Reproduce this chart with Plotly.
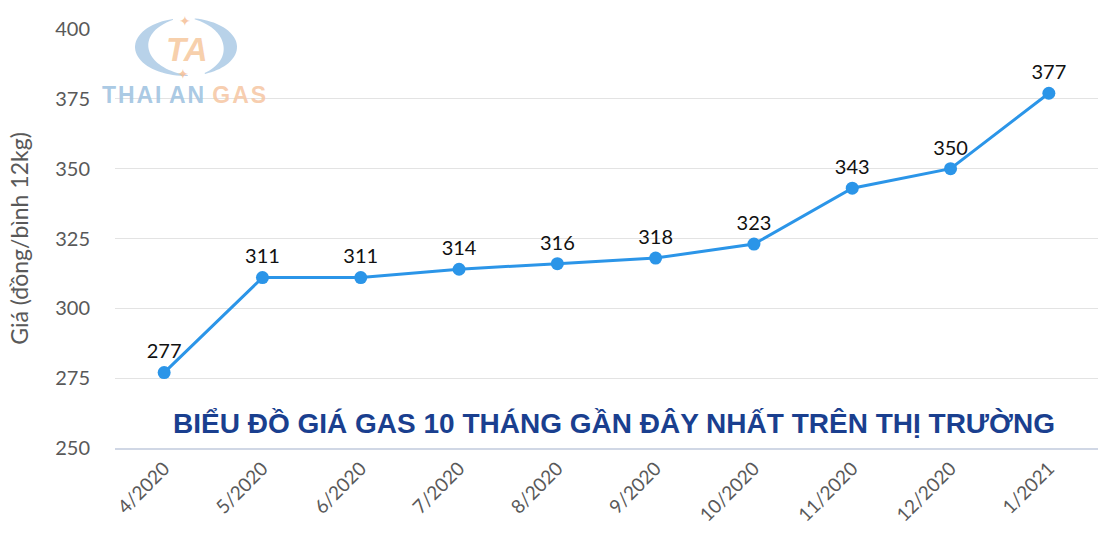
import numpy as np
import plotly.graph_objects as go

months = ["4/2020", "5/2020", "6/2020", "7/2020", "8/2020", "9/2020",
          "10/2020", "11/2020", "12/2020", "1/2021"]
prices = [277, 311, 311, 314, 316, 318, 323, 343, 350, 377]
y_ticks = [250, 275, 300, 325, 350, 375, 400]

L, R, T, B = 115, 4, 29, 95
W, H = 1102, 543
PW, PH = W - L - R, H - T - B

fig = go.Figure()
fig.add_trace(go.Scatter(
    x=months, y=prices, mode="lines+markers+text",
    text=[str(p) for p in prices], textposition="top center",
    textfont=dict(family="Lato", size=20, color="#111111"),
    line=dict(color="#2b95e8", width=3),
    marker=dict(color="#2b95e8", size=13),
    cliponaxis=False, showlegend=False,
))

fig.update_layout(
    width=W, height=H,
    margin=dict(l=L, r=R, t=T, b=B),
    paper_bgcolor="white", plot_bgcolor="white",
    xaxis=dict(type="category", tickangle=-45, showgrid=False,
               tickfont=dict(family="Lato", size=19, color="#595959"),
               showline=True, linecolor="#d0d7e5", linewidth=2,
               range=[-0.5, 9.5], ticks=""),
    yaxis=dict(range=[250, 400], tickvals=y_ticks, showgrid=True,
               gridcolor="#e3e3e3", gridwidth=1, zeroline=False,
               tickfont=dict(family="Lato", size=20, color="#595959"),
               ticks="", ticklabelstandoff=24,
               title=dict(text="Giá (đồng/bình 12kg)", standoff=20,
                          font=dict(family="Lato", size=23, color="#595959"))),
)

# Title annotation
fig.add_annotation(
    text="<b>BIỂU ĐỒ GIÁ GAS 10 THÁNG GẦN ĐÂY NHẤT TRÊN THỊ TRƯỜNG</b>",
    xref="paper", yref="paper", x=(614 - L) / PW, y=(H - B - 423) / PH,
    xanchor="center", yanchor="middle", showarrow=False,
    font=dict(family="Liberation Sans", size=28, color="#1a3f8f"))


# Watermark logo (decoration), built in pixel space then converted to paper
def to_paper(xs, ys):
    return (np.asarray(xs) - L) / PW, (H - B - np.asarray(ys)) / PH


def crescent(t1, t2, cx=186, cy=47, rx=51, ry=29, w=12, n=40):
    t = np.linspace(np.radians(t1), np.radians(t2), n)
    th = w * np.sin(np.pi * (t - t[0]) / (t[-1] - t[0])) + 1.5
    ox, oy = cx + rx * np.cos(t), cy - ry * np.sin(t)
    ix, iy = cx + (rx - th) * np.cos(t), cy - (ry - th * 0.6) * np.sin(t)
    xs = np.concatenate([ox, ix[::-1]])
    ys = np.concatenate([oy, iy[::-1]])
    px, py = to_paper(xs, ys)
    d = "M " + " L ".join(f"{a:.5f},{b:.5f}" for a, b in zip(px, py)) + " Z"
    return d


for a1, a2 in [(105, 272), (80, -68)]:
    fig.add_shape(type="path", xref="paper", yref="paper", path=crescent(a1, a2),
                  fillcolor="rgba(160,195,226,0.75)", line=dict(width=0),
                  layer="above")

for sx, sy in [(185, 21), (183, 74)]:
    px, py = to_paper([sx], [sy])
    fig.add_annotation(text="✦", xref="paper", yref="paper", x=px[0], y=py[0],
                       xanchor="center", yanchor="middle", showarrow=False,
                       font=dict(family="DejaVu Sans", size=14,
                                 color="rgba(245,190,150,0.85)"))

px, py = to_paper([187], [49])
fig.add_annotation(text="<b><i>TA</i></b>", xref="paper", yref="paper",
                   x=px[0], y=py[0], xanchor="center", yanchor="middle",
                   showarrow=False,
                   font=dict(family="Liberation Sans", size=33,
                             color="rgba(246,196,150,0.8)"))
hs = "\u200a"
px, py = to_paper([184], [95])
fig.add_annotation(
    text="<b><span style='color:rgba(160,195,225,0.9)'>"
         + hs.join("THAI") + hs + " " + hs.join("AN") + hs + " </span>"
         "<span style='color:rgba(246,200,165,0.9)'>" + hs.join("GAS") + "</span></b>",
    xref="paper", yref="paper", x=px[0], y=py[0], xanchor="center",
    yanchor="middle", showarrow=False,
    font=dict(family="Liberation Sans", size=23))

fig.write_html("out.html")
